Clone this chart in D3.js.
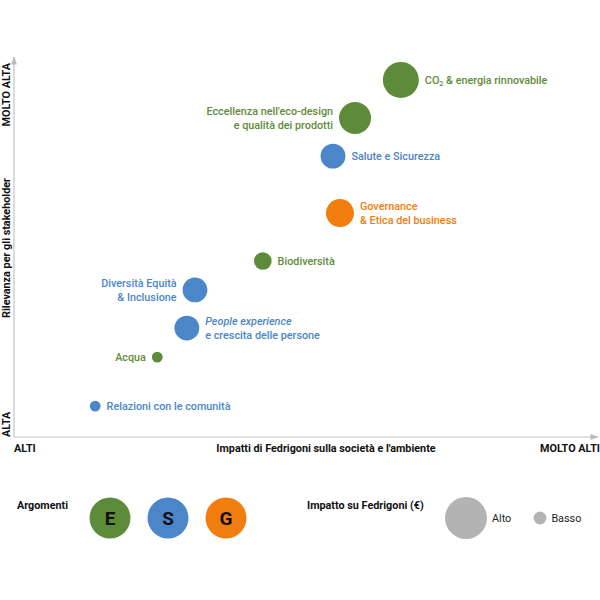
<!DOCTYPE html>
<html><head><meta charset="utf-8">
<script src="https://cdn.jsdelivr.net/npm/d3@7"></script>
<style>body{margin:0;background:#fff;} text{font-family:Roboto,"Noto Sans",sans-serif;}</style>
</head><body><svg id="c" width="600" height="600"></svg>
<script>
// Data
const topics = ["CO2 & energia rinnovabile","Eccellenza nell'eco-design e qualità dei prodotti","Salute e Sicurezza","Governance & Etica del business","Biodiversità","Diversità Equità & Inclusione","People experience e crescita delle persone","Acqua","Relazioni con le comunità"];
const labelLines = [["CO₂ & energia rinnovabile"],["Eccellenza nell'eco-design","e qualità dei prodotti"],["Salute e Sicurezza"],["Governance","& Etica del business"],["Biodiversità"],["Diversità Equità","& Inclusione"],["People experience","e crescita delle persone"],["Acqua"],["Relazioni con le comunità"]];
const groups = ["E","E","S","G","E","S","S","E","S"];
const impatto = [6.67, 5.88, 5.50, 5.62, 4.29, 3.12, 2.98, 2.47, 1.40];   // x
const rilevanza = [9.47, 8.46, 7.45, 5.94, 4.67, 3.90, 2.89, 2.12, 0.82]; // y
const impattoEuro = [9.0, 8.0, 6.2, 7.0, 4.4, 6.2, 6.2, 2.7, 2.7];       // size
const labelSide = ["r","l","r","r","r","l","r","l","r"];
const groupColors = {E:"#5e8b3a", S:"#4a86c8", G:"#f07d0d"};
const legendGroups = ["E","S","G"];
const sizeLegend = [{label:"Alto", v:10.5},{label:"Basso", v:3.2}];

const svg = d3.select("#c");
const x = d3.scaleLinear().domain([0,10]).range([14,594]);
const y = d3.scaleLinear().domain([0,10]).range([437,60]);
const r = d3.scaleLinear().domain([0,10]).range([0,20]);
const FS = "10.8px";

// arrows
const defs = svg.append("defs");
defs.append("marker").attr("id","arr").attr("viewBox","0 0 10 10").attr("refX",9).attr("refY",5)
  .attr("markerWidth",7).attr("markerHeight",7).attr("orient","auto")
  .append("path").attr("d","M0,1.5L10,5L0,8.5Z").attr("fill","#bbb");

svg.append("line").attr("x1",x(0)).attr("y1",y(0)).attr("x2",x(0)).attr("y2",y(10)-3)
  .attr("stroke","#c4c4c4").attr("stroke-width",1.2).attr("marker-end","url(#arr)");
svg.append("line").attr("x1",x(0)).attr("y1",y(0)).attr("x2",x(10)+4).attr("y2",y(0))
  .attr("stroke","#c4c4c4").attr("stroke-width",1.2).attr("marker-end","url(#arr)");

// axis labels
function t(xp,yp,str,anchor,rot){
  const e = svg.append("text").attr("x",xp).attr("y",yp).text(str)
   .attr("font-size",FS).attr("font-weight",700).attr("fill","#111")
   .attr("text-anchor",anchor||"start");
  if(rot) e.attr("transform",`rotate(-90,${xp},${yp})`);
  return e;
}
t(10, y(0), "ALTA","start",true);
t(10, y(10)+3, "MOLTO ALTA","end",true);
t(10, 248, "Rilevanza per gli stakeholder","middle",true);
t(14, 452, "ALTI","start");
t(326, 452, "Impatti di Fedrigoni sulla società e l'ambiente","middle");
t(600, 452, "MOLTO ALTI","end");

// points
const data = topics.map((d,i)=>({name:d,lines:labelLines[i],g:groups[i],x:impatto[i],y:rilevanza[i],s:impattoEuro[i],side:labelSide[i]}));
const pts = svg.append("g").selectAll("g").data(data).join("g")
  .attr("transform",d=>`translate(${x(d.x)},${y(d.y)})`);
pts.append("circle").attr("r",d=>r(d.s)).attr("fill",d=>groupColors[d.g]);
pts.each(function(d){
  const g = d3.select(this);
  const off = r(d.s) + 6;
  const n = d.lines.length;
  const tx = g.append("text").attr("font-size",FS).attr("font-weight",500)
    .attr("fill",groupColors[d.g]).attr("text-anchor",d.side==="r"?"start":"end");
  d.lines.forEach((ln,i)=>{
    const ts = tx.append("tspan").attr("x",d.side==="r"?off:-off)
      .attr("y",(i-(n-1)/2)*14 + 3.8);
    if(ln.startsWith("CO₂")){
      ts.text("CO");
      ts.append("tspan").attr("font-size","7px").attr("dy",2).text("2");
      ts.append("tspan").attr("dy",-2).text(" & energia rinnovabile");
    } else if(ln==="People experience"){
      ts.attr("font-style","italic").text(ln);
    } else ts.text(ln);
  });
});

// legend
svg.append("text").attr("x",17).attr("y",509).text("Argomenti").attr("font-size",FS).attr("font-weight",700).attr("fill","#111");
const lg = svg.append("g").selectAll("g").data(legendGroups).join("g")
  .attr("transform",(d,i)=>`translate(${110+i*58},518)`);
lg.append("circle").attr("r",20.5).attr("fill",d=>groupColors[d]);
lg.append("text").attr("text-anchor","middle").attr("y",7).attr("font-size","19px").attr("font-weight",700).attr("fill","#111").text(d=>d);

svg.append("text").attr("x",307).attr("y",509).text("Impatto su Fedrigoni (€)").attr("font-size",FS).attr("font-weight",700).attr("fill","#111");
const sl = svg.append("g").selectAll("g").data(sizeLegend).join("g")
  .attr("transform",(d,i)=>`translate(${[466,540][i]},518)`);
sl.append("circle").attr("r",d=>r(d.v)).attr("fill","#b3b3b3");
sl.append("text").attr("x",d=>r(d.v)+5).attr("y",4).attr("font-size",FS).attr("fill","#222").text(d=>d.label);
</script></body></html>
